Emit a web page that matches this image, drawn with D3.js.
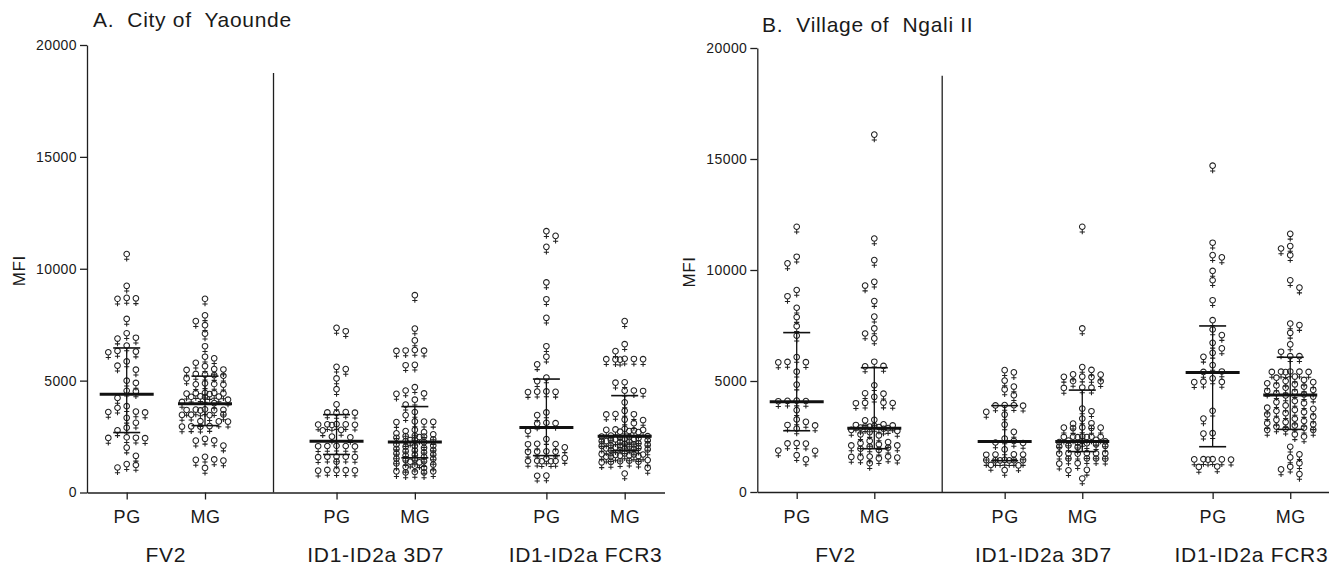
<!DOCTYPE html>
<html><head><meta charset="utf-8">
<script src="https://cdn.jsdelivr.net/npm/d3@7"></script>
<style>
body{margin:0;background:#fff;}
svg{display:block;font-family:"Liberation Sans",Arial,sans-serif;}
text{white-space:pre;fill:#1a1a1a;}
</style></head><body>
<svg id="c" width="1329" height="567"></svg>
<script>
// ---------- data ----------
const groups = ["FV2", "ID1-ID2a 3D7", "ID1-ID2a FCR3"];
const subgroups = ["PG", "MG"];
const yTicks = [0, 5000, 10000, 15000, 20000];
const titles = ["A.  City of  Yaounde", "B.  Village of  Ngali II"];
const yLabel = "MFI";

// Panel A: City of Yaounde
const aFV2PG = [10560, 9140, 8600, 8580, 8560, 7660, 7020, 6820, 6780, 6470, 6230, 6200, 6170, 5760, 5570, 5390, 4900, 4800, 4450, 4420, 4130, 3760, 3690, 3520, 3500, 3480, 3240, 3020, 2800, 2680, 2370, 2350, 2340, 2330, 1910, 1540, 1170, 1130, 1020];
const aFV2MG = [8560, 7820, 7560, 7380, 7000, 6440, 5970, 5900, 5700, 5550, 5420, 5400, 5380, 5200, 5170, 5150, 5120, 5000, 4780, 4750, 4740, 4720, 4360, 4350, 4340, 4330, 4320, 4300, 4200, 4190, 4180, 4170, 4050, 3950, 3900, 3620, 3610, 3600, 3590, 3580, 3570, 3390, 3380, 3370, 3360, 3090, 3080, 3070, 2870, 2860, 2850, 2840, 2300, 2230, 2220, 2000, 1500, 1380, 1360, 1330, 1000];
const a3D7PG = [7260, 7110, 5520, 5420, 5000, 4520, 3840, 3500, 3480, 3470, 3460, 2960, 2950, 2950, 2940, 2930, 2920, 2700, 2680, 2400, 2370, 1990, 1980, 1980, 1970, 1960, 1510, 1500, 1500, 1490, 1480, 1280, 910, 900, 900, 890, 880];
const a3D7MG = [8720, 7230, 6700, 6270, 6250, 6240, 6230, 5610, 5590, 4610, 4460, 4330, 4310, 4050, 3830, 3500, 3360, 3080, 3070, 3060, 3050, 2700, 2650, 2600, 2550, 2500, 2450, 2420, 2400, 2380, 2350, 2280, 2260, 2250, 2200, 2150, 2050, 2000, 1980, 1950, 1900, 1850, 1800, 1780, 1750, 1700, 1650, 1600, 1580, 1550, 1500, 1420, 1400, 1380, 1350, 1300, 1280, 1250, 1200, 1150, 1100, 1050, 1000, 850, 850, 820, 800, 800];
const aFCR3PG = [11580, 11370, 10880, 9290, 8540, 7710, 6440, 5970, 5630, 5040, 4880, 4420, 4410, 4400, 4390, 3480, 3360, 3020, 3000, 2980, 2650, 2290, 2080, 2070, 2060, 1920, 1740, 1730, 1730, 1720, 1440, 1420, 1320, 1310, 1310, 1300, 1300, 660, 650];
const aFCR3MG = [7560, 6530, 6220, 5880, 5870, 5860, 5860, 5850, 5840, 4830, 4810, 4460, 4450, 4440, 3930, 3550, 3410, 3400, 3390, 3160, 3140, 3000, 2750, 2720, 2700, 2700, 2680, 2650, 2620, 2600, 2450, 2420, 2400, 2380, 2350, 2330, 2300, 2300, 2280, 2250, 2230, 2200, 2200, 2180, 2150, 2100, 2080, 2050, 2030, 2000, 1980, 1950, 1950, 1920, 1900, 1880, 1870, 1850, 1830, 1800, 1650, 1620, 1600, 1600, 1580, 1560, 1550, 1530, 1520, 1500, 1350, 1320, 1300, 1280, 1270, 1250, 1000, 750];
const aMedian = [4390, 3970, 2290, 2260, 2900, 2510];
const aQ1 = [2680, 2990, 1700, 1550, 1650, 1870];
const aQ3 = [6460, 5200, 3480, 3840, 5070, 4330];

// Panel B: Village of Ngali II
const bFV2PG = [11850, 10500, 10200, 9000, 8720, 8200, 7780, 7370, 6940, 5980, 5760, 5750, 5740, 5320, 4740, 4020, 4010, 4000, 3990, 3590, 3170, 3060, 2920, 2900, 2760, 2100, 2090, 2080, 1770, 1760, 1560, 1370];
const bFV2MG = [16000, 11320, 10350, 9370, 9200, 8500, 7800, 7270, 7040, 6820, 5770, 5580, 5560, 4710, 4350, 4330, 4190, 3930, 3920, 3910, 3900, 3150, 3130, 2950, 2920, 2900, 2880, 2860, 2850, 2830, 2800, 2780, 2750, 2700, 2650, 2600, 2500, 2450, 2200, 2150, 2100, 2050, 2000, 2000, 1950, 1900, 1850, 1800, 1500, 1500, 1480, 1460, 1450, 1420, 1200];
const b3D7PG = [5390, 5290, 4920, 4650, 4520, 4260, 3820, 3810, 3800, 3790, 3510, 3390, 2940, 2610, 2310, 2200, 2130, 2110, 1820, 1600, 1590, 1590, 1580, 1350, 1340, 1340, 1340, 1340, 1330, 1330, 1120, 1100, 890];
const b3D7MG = [11850, 7270, 5530, 5400, 5200, 5190, 5100, 5090, 5080, 4900, 4890, 4610, 4600, 4590, 3660, 3540, 3210, 3000, 2980, 2810, 2800, 2800, 2790, 2780, 2400, 2390, 2390, 2390, 2380, 2380, 2370, 2250, 2220, 2200, 2180, 2150, 2120, 2100, 2050, 2000, 1980, 1950, 1920, 1650, 1640, 1640, 1640, 1630, 1630, 1420, 1410, 1410, 1400, 1200, 1180, 900, 880, 510];
const bFCR3PG = [14600, 11130, 10570, 10470, 9860, 9440, 8540, 7640, 7220, 6970, 6620, 6370, 6170, 5990, 5620, 5330, 5310, 5020, 4870, 4860, 4850, 3560, 3210, 2550, 2530, 1380, 1380, 1370, 1370, 1360, 1360, 1050, 1030];
const bFCR3MG = [11530, 10980, 10870, 10570, 9440, 9110, 7490, 7420, 7070, 6550, 6220, 6020, 6020, 5330, 5320, 5320, 5310, 5310, 5300, 5100, 5050, 4950, 4900, 4850, 4800, 4750, 4700, 4650, 4600, 4500, 4450, 4400, 4350, 4300, 4250, 4200, 4000, 3950, 3900, 3800, 3700, 3650, 3600, 3550, 3500, 3450, 3400, 3300, 3200, 3150, 3100, 3050, 3000, 2950, 2900, 2850, 2800, 2750, 2700, 2700, 2500, 2400, 1940, 1600, 1460, 1200, 1040, 920, 710];
const bMedian = [4070, 2870, 2270, 2270, 5380, 4370];
const bQ1 = [2760, 1950, 1410, 1820, 2040, 2820];
const bQ3 = [7180, 5600, 3890, 4590, 7480, 6070];

// ---------- layout ----------
const panels = [
  {title: titles[0], sets: [aFV2PG, aFV2MG, a3D7PG, a3D7MG, aFCR3PG, aFCR3MG], med: aMedian, q1: aQ1, q3: aQ3,
   xLeft: 87, xRight: 664.5, col0: 126.7, unit: 78.3, yBot: 492.5, yTop: 45, titleX: 93, titleY: 27, labX: 25},
  {title: titles[1], sets: [bFV2PG, bFV2MG, b3D7PG, b3D7MG, bFCR3PG, bFCR3MG], med: bMedian, q1: bQ1, q3: bQ3,
   xLeft: 757.3, xRight: 1329, col0: 796.7, unit: 77.6, yBot: 492, yTop: 48, titleX: 762, titleY: 32, labX: 695}
];
const groupGap = 2.68;
const dividerSlot = 1.875;
const ink = "#1f1f1f";

const venus = {
  draw(ctx) {
    const r = 2.8, cy = -2.2;
    ctx.moveTo(r, cy);
    ctx.arc(0, cy, r, 0, 2 * Math.PI);
    ctx.moveTo(0, cy + r);
    ctx.lineTo(0, 5.4);
    ctx.moveTo(-2.6, 3.1);
    ctx.lineTo(2.6, 3.1);
  }
};
const symbolGen = d3.symbol().type(venus);

// collision-avoiding column scatter on a fine horizontal grid
function swarm(vals, y, cx) {
  const pts = vals.map(v => ({v, y: y(v)})).sort((a, b) => a.y - b.y);
  const grid = 4.6, maxK = 5, dxMin = 9.2, dyMin = 8.5;
  const placed = [];
  pts.forEach((p, i) => {
    const ks = [0];
    for (let k = 1; k <= maxK; k++) { if (i % 2) ks.push(k, -k); else ks.push(-k, k); }
    let best = 0, bestScore = -Infinity;
    for (const k of ks) {
      const ox = k * grid;
      let minD = Infinity;
      for (const q of placed) {
        const dy = Math.abs(q.y - p.y);
        if (dy >= dyMin) continue;
        const d = Math.max(Math.abs(q.ox - ox) / dxMin, dy / dyMin);
        if (d < minD) minD = d;
      }
      if (minD >= 1) { best = ox; bestScore = Infinity; break; }
      if (minD > bestScore + 1e-9) { bestScore = minD; best = ox; }
    }
    p.ox = best;
    p.x = cx + best;
    placed.push(p);
  });
  return pts;
}

const svg = d3.select("#c");

panels.forEach(P => {
  const g = svg.append("g");
  const y = d3.scaleLinear().domain([0, 20000]).range([P.yBot, P.yTop]);
  const slots = [];
  groups.forEach((_, gi) => subgroups.forEach((_, si) => slots.push(gi * groupGap + si)));
  const slotMin = (P.xLeft - P.col0) / P.unit, slotMax = (P.xRight - P.col0) / P.unit;
  const x = d3.scaleLinear().domain([slotMin, slotMax]).range([P.xLeft, P.xRight]);

  const ya = g.append("g").attr("transform", `translate(${P.xLeft},0)`)
    .call(d3.axisLeft(y).tickValues(yTicks).tickFormat(d3.format("d")).tickSize(7).tickSizeOuter(0).tickPadding(3));
  ya.selectAll("path,line").attr("stroke", ink).attr("stroke-width", 1.3);
  ya.selectAll("text").attr("font-size", 14).attr("letter-spacing", 0.4).attr("fill", ink)
    .attr("font-family", "Liberation Sans, Arial, sans-serif");

  const xa = g.append("g").attr("transform", `translate(0,${y(0)})`)
    .call(d3.axisBottom(x).tickValues(slots).tickFormat((d, i) => subgroups[i % 2]).tickSize(7).tickSizeOuter(0).tickPadding(11));
  xa.selectAll("path,line").attr("stroke", ink).attr("stroke-width", 1.3);
  xa.selectAll("text").attr("font-size", 18).attr("letter-spacing", 0.6).attr("fill", ink)
    .attr("font-family", "Liberation Sans, Arial, sans-serif");

  g.append("line").attr("x1", x(dividerSlot)).attr("x2", x(dividerSlot))
    .attr("y1", y(18750)).attr("y2", y(0)).attr("stroke", ink).attr("stroke-width", 1.3);

  groups.forEach((name, gi) => {
    g.append("text").attr("x", x(gi * groupGap + 0.5)).attr("y", 562)
      .attr("text-anchor", "middle").attr("font-size", 21).attr("letter-spacing", 0.7).text(name);
  });

  g.append("text").attr("x", P.titleX).attr("y", P.titleY).attr("font-size", 21)
    .attr("letter-spacing", 0.7).text(P.title);

  g.append("text").attr("transform", `translate(${P.labX},${(y(0) + y(20000)) / 2 + 2}) rotate(-90)`)
    .attr("text-anchor", "middle").attr("font-size", 17).attr("letter-spacing", 0.6).text(yLabel);

  P.sets.forEach((vals, k) => {
    const cx = x(slots[k]);
    const pts = swarm(vals, y, cx);
    g.append("g").selectAll("path").data(pts).join("path")
      .attr("d", symbolGen())
      .attr("transform", d => `translate(${d.x},${d.y})`)
      .attr("fill", "none").attr("stroke", "#222").attr("stroke-width", 1.05);

    const eb = g.append("g").attr("stroke", "#111");
    eb.append("line").attr("x1", cx).attr("x2", cx).attr("y1", y(P.q1[k])).attr("y2", y(P.q3[k])).attr("stroke-width", 1.3);
    [P.q1[k], P.q3[k]].forEach(v => eb.append("line").attr("x1", cx - 13.5).attr("x2", cx + 13.5)
      .attr("y1", y(v)).attr("y2", y(v)).attr("stroke-width", 1.6));
    eb.append("line").attr("x1", cx - 27).attr("x2", cx + 27).attr("y1", y(P.med[k])).attr("y2", y(P.med[k])).attr("stroke-width", 3);
  });
});
</script>
</body></html>
